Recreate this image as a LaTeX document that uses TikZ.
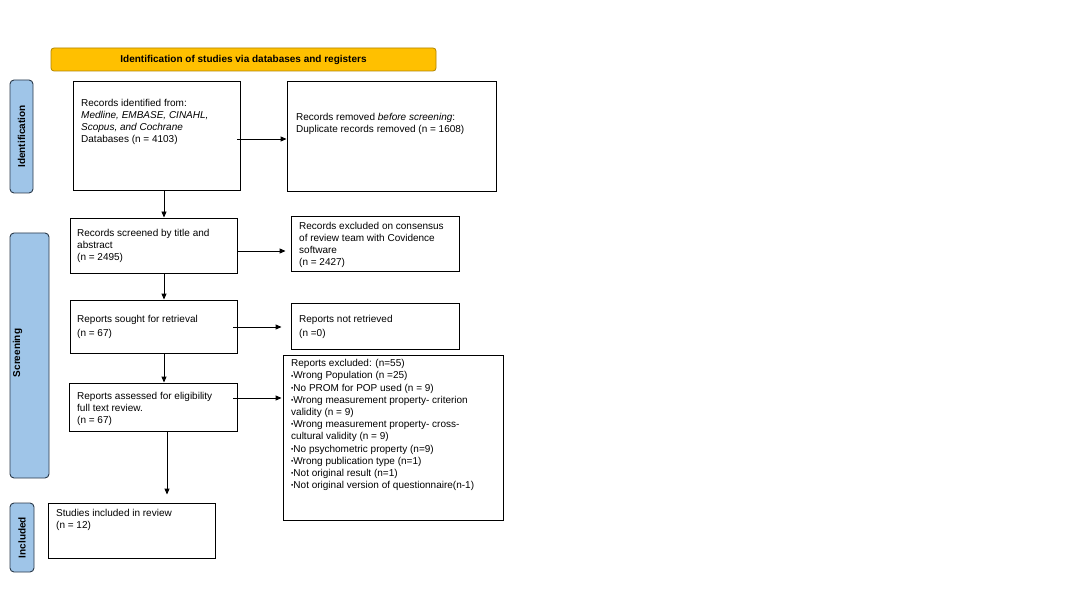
\documentclass[tikz,border=0pt]{standalone}
\usepackage{fontspec}
\setmainfont{Liberation Sans}
\usetikzlibrary{arrows.meta}
\definecolor{bannerfill}{HTML}{FFC000}
\definecolor{bannerdraw}{HTML}{B08400}
\definecolor{sidefill}{HTML}{9FC5E8}
\definecolor{sidedraw}{HTML}{2B3A4A}
\newcommand{\smbul}{{\fontsize{6.5}{6.5}\selectfont\raisebox{0.9pt}{•}}}
\tikzset{
  box/.style={draw=black, line width=0.9pt, inner sep=0pt, fill=white},
  txt/.style={anchor=north west, inner sep=0pt, align=left, font=\fontsize{10}{12}\selectfont},
  txtwide/.style={txt, font=\fontsize{10}{13.6}\selectfont},
  banner/.style={draw=bannerdraw, fill=bannerfill, line width=0.8pt, rounded corners=3pt, inner sep=0pt, font=\bfseries\fontsize{10}{12}\selectfont},
  side/.style={draw=sidedraw, fill=sidefill, line width=0.9pt, rounded corners=4pt, inner sep=0pt},
  sidetxt/.style={rotate=90, inner sep=0pt, font=\bfseries\fontsize{10}{12}\selectfont},
  arr/.style={draw=black, line width=0.9pt, -{Triangle[length=6pt,width=5pt]}}
}
\begin{document}
\begin{tikzpicture}[x=1pt,y=-1pt]
\useasboundingbox[fill=white] (0,0) rectangle (1080,607);

% banner
\node[banner, minimum width=385pt, minimum height=23pt] (ban) at (243.5,59.5) {Identification of studies via databases and registers};

% side labels
\node[side, minimum width=23pt, minimum height=113pt] (sid) at (21.5,136.5) {};
\node[sidetxt] (sidt) at (21.5,136.5) {Identification};
\node[side, minimum width=39pt, minimum height=245pt] (ssc) at (29.5,355.5) {};
\node[sidetxt] (ssct) at (17.5,353) {Screening};
\node[side, minimum width=24pt, minimum height=69pt] (sin) at (22,537.5) {};
\node[sidetxt] (sint) at (22,537.5) {Included};

% boxes
\node[box, minimum width=167pt, minimum height=109pt] (b1) at (156.5,135.5) {};
\node[box, minimum width=209pt, minimum height=110pt] (b2) at (391.5,136) {};
\node[box, minimum width=167pt, minimum height=55pt] (b3) at (153.5,245.5) {};
\node[box, minimum width=168pt, minimum height=55pt] (b4) at (375,243.5) {};
\node[box, minimum width=167pt, minimum height=53pt] (b5) at (153.5,326.5) {};
\node[box, minimum width=168pt, minimum height=46pt] (b6) at (375,326) {};
\node[box, minimum width=168pt, minimum height=48pt] (b7) at (153,407) {};
\node[box, minimum width=220pt, minimum height=165pt] (b8) at (393,437.5) {};
\node[box, minimum width=167pt, minimum height=55pt] (b9) at (131.5,530.5) {};

% texts
\node[txt] (t1) at (81,99.3) {Records identified from:\\\textit{Medline, EMBASE, CINAHL,}\\\textit{Scopus, and Cochrane}\\Databases (n = 4103)};
\node[txt] (t2) at (296,113.3) {Records removed \textit{before screening}:\\Duplicate records removed (n = 1608)};
\node[txt] (t3) at (77,229.3) {Records screened by title and\\abstract\\(n = 2495)};
\node[txt] (t4) at (299,222.3) {Records excluded on consensus\\of review team with Covidence\\software\\(n = 2427)};
\node[txtwide] (t5) at (77,315.3) {Reports sought for retrieval\\(n = 67)};
\node[txtwide] (t6) at (299,315.3) {Reports not retrieved\\(n =0)};
\node[txt] (t7) at (77,392.3) {Reports assessed for eligibility\\full text review.\\(n = 67)};
\node[txt, font=\fontsize{10}{12.2}\selectfont] (t8) at (291,359.3) {Reports excluded: (n=55)\\%
\smbul Wrong Population (n =25)\\%
\smbul No PROM for POP used (n = 9)\\%
\smbul Wrong measurement property- criterion\\%
validity (n = 9)\\%
\smbul Wrong measurement property- cross-\\%
cultural validity (n = 9)\\%
\smbul No psychometric property (n=9)\\%
\smbul Wrong publication type (n=1)\\%
\smbul Not original result (n=1)\\%
\smbul Not original version of questionnaire(n-1)};
\node[txt] (t9) at (56,509.3) {Studies included in review\\(n = 12)};

% horizontal arrows
\draw[arr] ([xshift=-3pt,yshift=-3.5pt]b1.east) -- ([yshift=-3.5pt]b1.east -| b2.west);
\draw[arr] ([yshift=-5.5pt]b3.east) -- ([xshift=-5pt,yshift=-5.5pt]b3.east -| b4.west);
\draw[arr] ([xshift=-4pt,yshift=-0.5pt]b5.east) -- ([xshift=-9pt,yshift=-0.5pt]b5.east -| b6.west);
\draw[arr] ([xshift=-4pt,yshift=9pt]b7.east) -- ([xshift=-1pt,yshift=9pt]b7.east -| b8.west);

% vertical arrows
\draw[arr] ([xshift=7.5pt]b1.south) -- ([xshift=7.5pt]b1.south |- b3.north);
\draw[arr] ([xshift=10.5pt]b3.south) -- ([xshift=10.5pt]b3.south |- b5.north);
\draw[arr] ([xshift=10.5pt]b5.south) -- ([xshift=10.5pt]b5.south |- b7.north);
\draw[arr] ([xshift=14pt]b7.south) -- ([xshift=14pt,yshift=8pt]b7.south |- b9.north);
\end{tikzpicture}
\end{document}
